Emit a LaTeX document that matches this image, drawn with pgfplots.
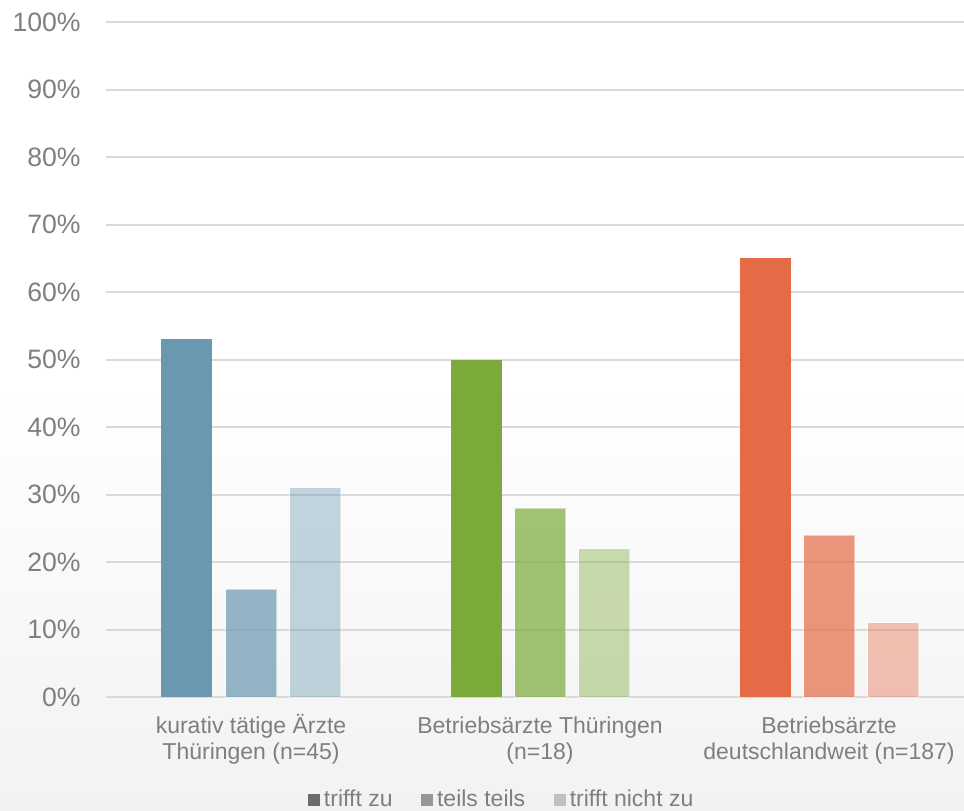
\documentclass[border=0pt]{standalone}
\usepackage{fontspec}
\setmainfont{Liberation Sans}
\usepackage{pgfplots}
\pgfplotsset{compat=1.18}

\definecolor{txt}{HTML}{7F7F7F}
\definecolor{gridc}{HTML}{D9D9D9}
\definecolor{bgbot}{HTML}{F2F2F2}
\definecolor{blu}{HTML}{6A98B0}
\definecolor{grn}{HTML}{7BAA3B}
\definecolor{orn}{HTML}{E56B47}
\definecolor{legA}{HTML}{6B6B6B}
\definecolor{legB}{HTML}{969696}
\definecolor{legC}{HTML}{BFBFBF}

\begin{document}
\begin{tikzpicture}
\path[use as bounding box] (0,0) rectangle (482pt,-405pt);
% chart background: white top, soft grey towards the bottom
\fill[white] (0,0) rectangle (482pt,-190pt);
\shade[top color=white, bottom color=bgbot] (0,-190pt) rectangle (482pt,-405pt);
\begin{axis}[
  at={(53.25pt,-348.5pt)}, anchor=south west,
  scale only axis, width=428.75pt, height=337.5pt,
  xmin=-0.5, xmax=2.467, ymin=0, ymax=100,
  axis line style={draw=none},
  major tick length=0pt,
  ytick={0,10,20,30,40,50,60,70,80,90,100},
  yticklabels={0\%,10\%,20\%,30\%,40\%,50\%,60\%,70\%,80\%,90\%,100\%},
  ymajorgrids,
  grid style={draw=gridc, line width=1pt},
  xtick={0,1,2},
  xticklabels={{kurativ tätige Ärzte\\Thüringen (n=45)},
               {Betriebsärzte Thüringen\\(n=18)},
               {Betriebsärzte\\deutschlandweit (n=187)}},
  xticklabel style={align=center, anchor=base, yshift=-31pt,
    font=\fontsize{11.5}{12.8}\selectfont, text=txt},
  yticklabel style={inner sep=0pt, xshift=-12.75pt,
    font=\fontsize{13.3}{15}\selectfont, text=txt},
  legend style={at={(0.462,-0.1526)}, anchor=center, draw=none, fill=none,
    legend columns=3, font=\fontsize{11.5}{13}\selectfont, text=txt,
    inner sep=0pt,
    /tikz/every even column/.append style={column sep=12.25pt}},
  legend image code/.code={\fill[draw=none,#1] (0pt,-3pt) rectangle (6pt,3pt);},
  bar width=0.1765,
]
% legend swatches (neutral greys)
\addlegendimage{draw=none, fill=legA}\addlegendentry{trifft zu}
\addlegendimage{draw=none, fill=legB}\addlegendentry{teils teils}
\addlegendimage{draw=none, fill=legC}\addlegendentry{trifft nicht zu}

% kurativ tätige Ärzte Thüringen
\addplot[ybar, forget plot, bar shift=-0.2215, fill=blu, draw=none] coordinates {(0,53)};
\addplot[ybar, forget plot, bar shift=0, fill=blu, fill opacity=0.7, draw=white, draw opacity=0.5, line width=0.4pt] coordinates {(0,16)};
\addplot[ybar, forget plot, bar shift=0.2215, fill=blu, fill opacity=0.4, draw=white, draw opacity=0.5, line width=0.4pt] coordinates {(0,31)};
% Betriebsärzte Thüringen
\addplot[ybar, forget plot, bar shift=-0.2215, fill=grn, draw=none] coordinates {(1,50)};
\addplot[ybar, forget plot, bar shift=0, fill=grn, fill opacity=0.7, draw=white, draw opacity=0.5, line width=0.4pt] coordinates {(1,28)};
\addplot[ybar, forget plot, bar shift=0.2215, fill=grn, fill opacity=0.4, draw=white, draw opacity=0.5, line width=0.4pt] coordinates {(1,22)};
% Betriebsärzte deutschlandweit
\addplot[ybar, forget plot, bar shift=-0.2215, fill=orn, draw=none] coordinates {(2,65)};
\addplot[ybar, forget plot, bar shift=0, fill=orn, fill opacity=0.7, draw=white, draw opacity=0.5, line width=0.4pt] coordinates {(2,24)};
\addplot[ybar, forget plot, bar shift=0.2215, fill=orn, fill opacity=0.4, draw=white, draw opacity=0.5, line width=0.4pt] coordinates {(2,11)};
\end{axis}
\end{tikzpicture}
\end{document}
